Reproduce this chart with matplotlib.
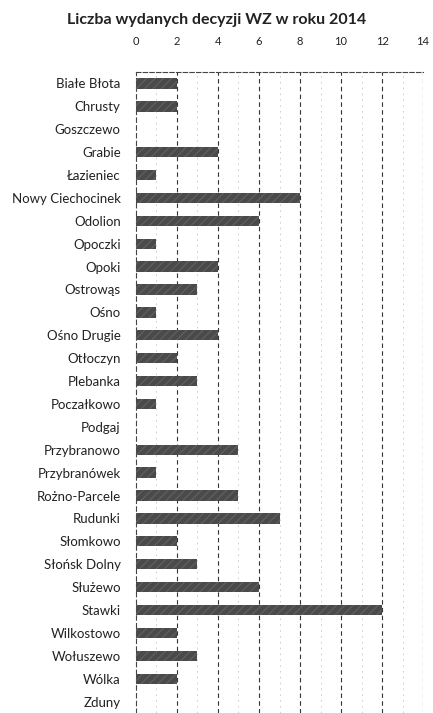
import matplotlib
matplotlib.use("Agg")
import matplotlib.pyplot as plt

categories = ["Białe Błota", "Chrusty", "Goszczewo", "Grabie", "Łazieniec",
              "Nowy Ciechocinek", "Odolion", "Opoczki", "Opoki", "Ostrowąs",
              "Ośno", "Ośno Drugie", "Otłoczyn", "Plebanka", "Poczałkowo",
              "Podgaj", "Przybranowo", "Przybranówek", "Rożno-Parcele", "Rudunki",
              "Słomkowo", "Słońsk Dolny", "Służewo", "Stawki", "Wilkostowo",
              "Wołuszewo", "Wólka", "Zduny"]
values = [2, 2, 0, 4, 1, 8, 6, 1, 4, 3, 1, 4, 2, 3, 1, 0, 5, 1, 5, 7,
          2, 3, 6, 12, 2, 3, 2, 0]
xticks = [0, 2, 4, 6, 8, 10, 12, 14]
title = "Liczba wydanych decyzji WZ w roku 2014"

plt.rcParams['font.family'] = ['Lato', 'DejaVu Sans']

fig = plt.figure(figsize=(4.33, 7.13), dpi=100)
ax = fig.add_axes([0.314, 0.0, 0.663, 0.899])

y = list(range(len(categories)))
ax.barh(y, values, height=0.45, color="#4a4a4a", edgecolor="#5e5e5e",
        hatch="////", linewidth=0, zorder=3)

ax.set_xlim(0, 14)
ax.set_ylim(len(categories) - 0.5, -0.5)
ax.set_xticks(xticks)
ax.set_xticklabels([str(t) for t in xticks])
ax.xaxis.tick_top()
ax.tick_params(axis="x", length=0, labelsize=8, pad=18, colors="#222222")
ax.set_yticks(y)
ax.set_yticklabels(categories)
ax.tick_params(axis="y", length=0, labelsize=9.5, pad=11, colors="#222222")

for t in xticks[1:]:
    ax.axvline(t, color="#333333", lw=0.8, ls=(0, (4, 3)), zorder=1)
for t in [1, 3, 5, 7, 9, 11, 13]:
    ax.axvline(t, color="#c8c8c8", lw=0.6, ls=(0, (2, 5)), zorder=1)

for s in ["right", "bottom"]:
    ax.spines[s].set_visible(False)
ax.spines["top"].set_linestyle((0, (4, 2)))
ax.spines["top"].set_color("#444444")
ax.spines["top"].set_linewidth(0.8)
ax.spines["left"].set_linestyle((0, (4, 3)))
ax.spines["left"].set_color("#444444")
ax.spines["left"].set_linewidth(0.8)

fig.text(0.5, 0.972, title, ha="center", va="center", fontsize=11.5,
         fontweight="bold", color="#222222")

fig.savefig("out.png", dpi=100, facecolor="white")
